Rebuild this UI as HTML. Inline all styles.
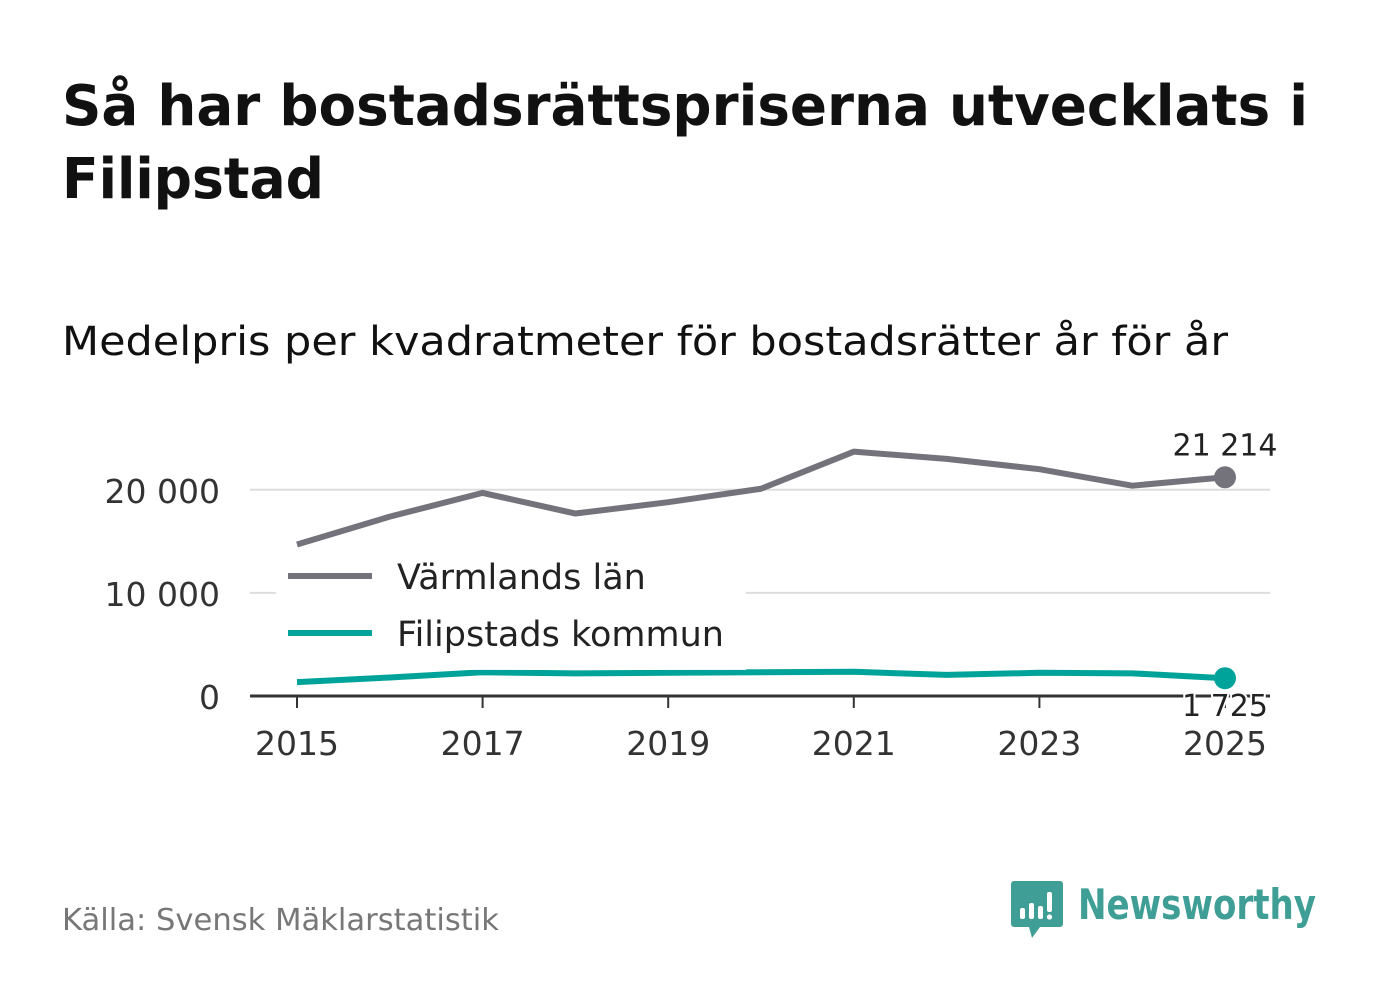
<!DOCTYPE html>
<html><head><meta charset="utf-8"><style>
body{margin:0;width:1382px;height:999px;background:#fff;font-family:"DejaVu Sans","Liberation Sans",sans-serif;overflow:hidden}
svg{position:absolute;left:0;top:0}
</style></head><body>
<svg width="1382" height="999">
<text x="62" y="125" font-size="56" font-weight="bold" fill="#111" font-family="DejaVu Sans, sans-serif" textLength="1246" lengthAdjust="spacingAndGlyphs">Så har bostadsrättspriserna utvecklats i</text>
<text x="62" y="198" font-size="56" font-weight="bold" fill="#111" textLength="262" lengthAdjust="spacingAndGlyphs">Filipstad</text>
<text x="62" y="355" font-size="40" fill="#111" textLength="1166" lengthAdjust="spacingAndGlyphs">Medelpris per kvadratmeter för bostadsrätter år för år</text>
<g id="plot"></g>
<text x="62" y="930" font-size="30" fill="#777" textLength="437" lengthAdjust="spacingAndGlyphs">Källa: Svensk Mäklarstatistik</text>
<g>
<path d="M1014 881 h46 a3 3 0 0 1 3 3 v40 a3 3 0 0 1 -3 3 h-20 l-8 11 l-3 -11 h-15 a3 3 0 0 1 -3 -3 v-40 a3 3 0 0 1 3 -3z" fill="#3f9e95"/>
<rect x="1020" y="908" width="5" height="11" rx="2" fill="#fff"/><rect x="1029" y="903" width="5" height="16" rx="2" fill="#fff"/><rect x="1038" y="906" width="5" height="13" rx="2" fill="#fff"/><rect x="1047" y="892" width="5" height="20" rx="2" fill="#fff"/><circle cx="1049.5" cy="917" r="2.6" fill="#fff"/>
<text x="1078" y="919" font-size="42" font-weight="bold" fill="#3f9e95" textLength="238" lengthAdjust="spacingAndGlyphs">Newsworthy</text>
</g>
</svg>
<script>
const years=[2015,2016,2017,2018,2019,2020,2021,2022,2023,2024,2025];
const varmland=[14700,17400,19700,17700,18800,20100,23700,23000,22000,20400,21214];
const filipstad=[1350,1800,2300,2200,2250,2300,2350,2050,2250,2200,1725];
const yTicks=[0,10000,20000];
const yTickLabels=["0","10 000","20 000"];
const xTicks=[2015,2017,2019,2021,2023,2025];
const ns="http://www.w3.org/2000/svg";
const g=document.getElementById('plot');
const X=y=>297+(y-2015)*92.8;
const Y=v=>696-v*0.01031;
function el(t,a,txt){const e=document.createElementNS(ns,t);for(const k in a)e.setAttribute(k,a[k]);if(txt!==undefined)e.textContent=txt;g.appendChild(e);return e;}
yTicks.forEach((v,i)=>{
 if(v>0){const l=el('line',{x1:250,x2:1270,y1:Y(v),y2:Y(v),stroke:'#ddd','stroke-width':2});
 
 }
 const t=el('text',{x:220,y:Y(v)+13,'font-size':33,fill:'#333','text-anchor':'end'},yTickLabels[i]);
 
 
});
xTicks.forEach(yr=>{
 const l=el('line',{x1:X(yr),x2:X(yr),y1:696,y2:708,stroke:'#333','stroke-width':2});
 
 
 const t=el('text',{x:X(yr),y:755,'font-size':33,fill:'#333','text-anchor':'middle'},yr);
 
 
});
function series(vals,color,name){
 const p=el('polyline',{points:vals.map((v,i)=>X(years[i])+','+Y(v)).join(' '),fill:'none',stroke:color,'stroke-width':6,'stroke-linejoin':'round'});
 
 
 const n=vals.length-1;
 const c=el('circle',{cx:X(years[n]),cy:Y(vals[n]),r:11,fill:color});
 
 
}
const leg=el('rect',{x:276,y:548,width:470,height:122,fill:'#fff',opacity:0.9});


series(varmland,'#74737b','varmland');
series(filipstad,'#00a39a','filipstad');
const leg2=el('rect',{x:276,y:548,width:470,height:122,fill:'#fff',opacity:0.85});


const ax=el('line',{x1:250,x2:1270,y1:696,y2:696,stroke:'#333','stroke-width':3});


[['#74737b','Värmlands län',576],['#00a39a','Filipstads kommun',633]].forEach(([c,t,y],i)=>{
 const l=el('line',{x1:288,x2:372,y1:y,y2:y,stroke:c,'stroke-width':6});
 
 
 const tx=el('text',{x:397,y:y+13,'font-size':35,fill:'#222'},t);
 
 
});
const fmt=v=>String(v).replace(/\B(?=(\d{3})+(?!\d))/g,' ');
const l1=el('text',{x:1225,y:Y(varmland[10])-22,'font-size':30,fill:'#222','text-anchor':'middle'},fmt(varmland[10]));


const l2=el('text',{x:1225,y:Y(filipstad[10])+38,'font-size':30,fill:'#222','text-anchor':'middle',stroke:'#fff','stroke-width':4,'paint-order':'stroke'},fmt(filipstad[10]));


</script>
</body></html>
